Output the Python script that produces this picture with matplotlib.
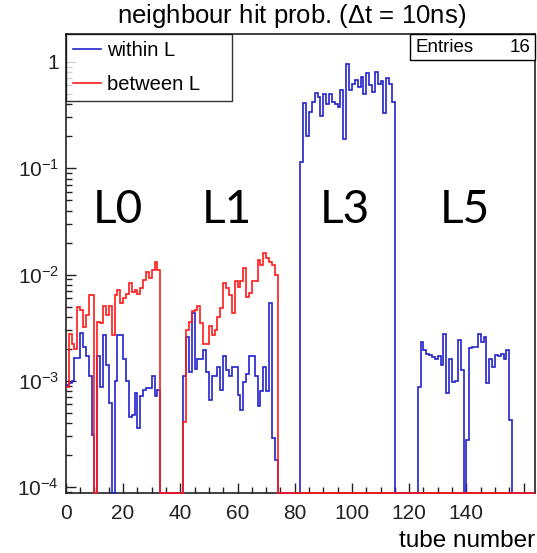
import numpy as np
import matplotlib
matplotlib.use("Agg")
import matplotlib.pyplot as plt
from matplotlib.patches import Rectangle
from matplotlib.ticker import MultipleLocator, LogLocator, FuncFormatter, NullFormatter

plt.rcParams['font.family'] = ['Liberation Sans', 'DejaVu Sans']
plt.rcParams['mathtext.fontset'] = 'custom'
plt.rcParams['mathtext.rm'] = 'Liberation Sans'
plt.rcParams['mathtext.it'] = 'Liberation Sans:italic'

# tubes per layer and first tube of each layer (L0, L1, L3, L5)
n_tubes = 164
layer_names = ["L0", "L1", "L3", "L5"]
layer_start = [0, 41, 82, 123]

# neighbour hit probability within the same layer
l0_within = [9.1e-4, 9.6e-4, 1.0e-3, 1.63e-3, 1.65e-3, 2.8e-3, 2.1e-3, 1.7e-3, 1.1e-3, 3.1e-4,
             0, 1.7e-3, 8.8e-4, 2.7e-3, 1.4e-3, 6.2e-4, 0, 1.0e-3, 2.7e-3, 2.7e-3,
             1.6e-3, 1.0e-3, 4.6e-4, 4.8e-4, 7.6e-4, 3.6e-4, 7.2e-4, 8.2e-4, 8.6e-4, 8.6e-4,
             1.1e-3, 7.2e-4, 8.2e-4]
l1_within = [1.1e-3, 2.6e-3, 1.2e-3, 4.3e-3, 1.3e-3, 1.6e-3, 1.6e-3, 1.95e-3, 1.2e-3, 6.6e-4,
             1.1e-3, 1.1e-3, 1.35e-3, 8.2e-4, 1.7e-3, 1.25e-3, 1.1e-3, 1.35e-3, 1.35e-3, 7.4e-4,
             5.3e-4, 9.8e-4, 1.15e-3, 1.7e-3, 1.7e-3, 1.1e-3, 5.8e-4, 8.0e-4, 1.35e-3, 8.0e-4,
             5.4e-3, 2.9e-4, 1.8e-4]
l3_within = [0.115, 0.41, 0.20, 0.34, 0.42, 0.51, 0.47, 0.31, 0.50, 0.40,
             0.50, 0.42, 0.40, 0.38, 0.55, 0.19, 0.95, 0.55, 0.62, 0.68,
             0.58, 0.72, 0.50, 0.78, 0.60, 0.52, 0.80, 0.62, 0.66, 0.33,
             0.70, 0.62, 0.42]
l5_within = [8.7e-4, 2.3e-3, 1.95e-3, 1.8e-3, 1.75e-3, 1.66e-3, 1.6e-3, 1.7e-3, 1.4e-3, 2.75e-3,
             7.6e-4, 1.6e-3, 9.8e-4, 1.0e-3, 2.4e-3, 1.26e-3, 0, 2.8e-4, 2.05e-3, 2.1e-3,
             2.1e-3, 2.75e-3, 2.3e-3, 2.6e-3, 9.5e-4, 1.6e-3, 1.35e-3, 1.75e-3, 1.7e-3, 1.8e-3,
             1.6e-3, 1.95e-3, 4.3e-4]

# neighbour hit probability between layers
l0_between = [8.8e-4, 2.75e-3, 2.2e-3, 2.0e-3, 5.0e-3, 4.6e-3, 3.2e-3, 4.2e-3, 6.4e-3, 6.4e-3,
              0, 3.6e-3, 3.5e-3, 5.1e-3, 4.2e-3, 5.1e-3, 2.7e-3, 6.4e-3, 7.1e-3, 5.4e-3,
              6.0e-3, 6.6e-3, 8.3e-3, 6.9e-3, 7.2e-3, 6.6e-3, 7.4e-3, 8.9e-3, 1.06e-2, 9.2e-3,
              1.1e-2, 1.32e-2, 1.1e-2]
l1_between = [4.1e-4, 3.0e-3, 3.6e-3, 4.5e-3, 4.6e-3, 5.1e-3, 3.5e-3, 2.2e-3, 2.2e-3, 3.3e-3,
              2.7e-3, 3.0e-3, 4.0e-3, 4.8e-3, 8.3e-3, 7.4e-3, 6.4e-3, 4.3e-3, 8.6e-3, 7.7e-3,
              8.6e-3, 1.14e-2, 6.2e-3, 6.7e-3, 8.6e-3, 8.6e-3, 1.37e-2, 1.23e-2, 1.58e-2, 1.42e-2,
              1.32e-2, 1.23e-2, 1.0e-2]

n_entries = 16

ymin, ymax = 8.8e-5, 1.83

within = np.zeros(n_tubes)
between = np.zeros(n_tubes)
for start, vals in zip(layer_start, [l0_within, l1_within, l3_within, l5_within]):
    within[start:start + len(vals)] = vals
for start, vals in zip(layer_start[:2], [l0_between, l1_between]):
    between[start:start + len(vals)] = vals

edges = np.arange(n_tubes + 1)

fig = plt.figure(figsize=(5.37, 5.53), dpi=100)
ax = fig.add_axes([0.1227, 0.1085, 0.8736, 0.830])

# empty bins are drawn on the bottom of the frame (ROOT style)
ax.stairs(np.where(within > 0, within, ymin), edges, baseline=None, color='#2222cc', lw=1.2,
          label='within L', zorder=3, clip_on=False)
ax.stairs(np.where(between > 0, between, ymin), edges, baseline=None, color='#ff1a1a', lw=1.2,
          label='between L', zorder=3.1, clip_on=False)

ax.set_yscale('log')
ax.set_xlim(0, n_tubes)
ax.set_ylim(ymin, ymax)

ax.xaxis.set_major_locator(MultipleLocator(20))
ax.xaxis.set_minor_locator(MultipleLocator(5))
ax.xaxis.set_major_formatter(FuncFormatter(lambda v, _: '' if v > 150 else '%d' % v))
ax.yaxis.set_major_locator(LogLocator(base=10, numticks=10))
ax.yaxis.set_minor_locator(LogLocator(base=10, subs=np.arange(2, 10), numticks=20))
ax.yaxis.set_minor_formatter(NullFormatter())
ax.yaxis.set_major_formatter(FuncFormatter(
    lambda v, _: '1' if abs(v - 1) < 1e-9 else r'$10^{%d}$' % int(round(np.log10(v)))))

ax.tick_params(which='both', direction='in', top=False, right=False, labelsize=15, colors='#222222')
ax.tick_params(which='major', length=7, width=1.0)
ax.tick_params(which='minor', length=4, width=1.0)
ax.tick_params(axis='x', pad=8)
ax.tick_params(axis='y', pad=5)
for s in ax.spines.values():
    s.set_linewidth(1.2)
    s.set_color('#222222')

fig.text(0.543, 0.971, r'neighbour hit prob. ($\Delta$t = 10ns)', ha='center', va='center', fontsize=18.5)
fig.text(0.996, 0.022, 'tube number', ha='right', va='center', fontsize=17.5)

leg = ax.legend(loc='upper left', bbox_to_anchor=(0, 0.856, 0.354, 0.144), mode='expand',
                borderaxespad=0, fancybox=False, frameon=True, fontsize=14.5,
                handlelength=1.4, handletextpad=0.3, labelspacing=0.75, borderpad=0.35)
leg.get_frame().set_edgecolor('black')
leg.get_frame().set_linewidth(1.0)

# statistics box
ax.add_patch(Rectangle((0.7335, 0.9434), 0.2665, 0.0566, transform=ax.transAxes,
                       facecolor='white', edgecolor='black', lw=1.0, zorder=5, clip_on=False))
ax.text(0.745, 0.971, 'Entries', transform=ax.transAxes, ha='left', va='center', fontsize=13.5, zorder=6)
ax.text(0.99, 0.971, str(n_entries), transform=ax.transAxes, ha='right', va='center', fontsize=13.5, zorder=6)

# layer labels
label_x = [18.2, 56.3, 97.6, 139.5]
for name, x in zip(layer_names, label_x):
    ax.text(x, 0.0405, name, ha='center', va='center', fontsize=33, family=['Lato', 'DejaVu Sans'])

fig.savefig('out.png', dpi=100)
